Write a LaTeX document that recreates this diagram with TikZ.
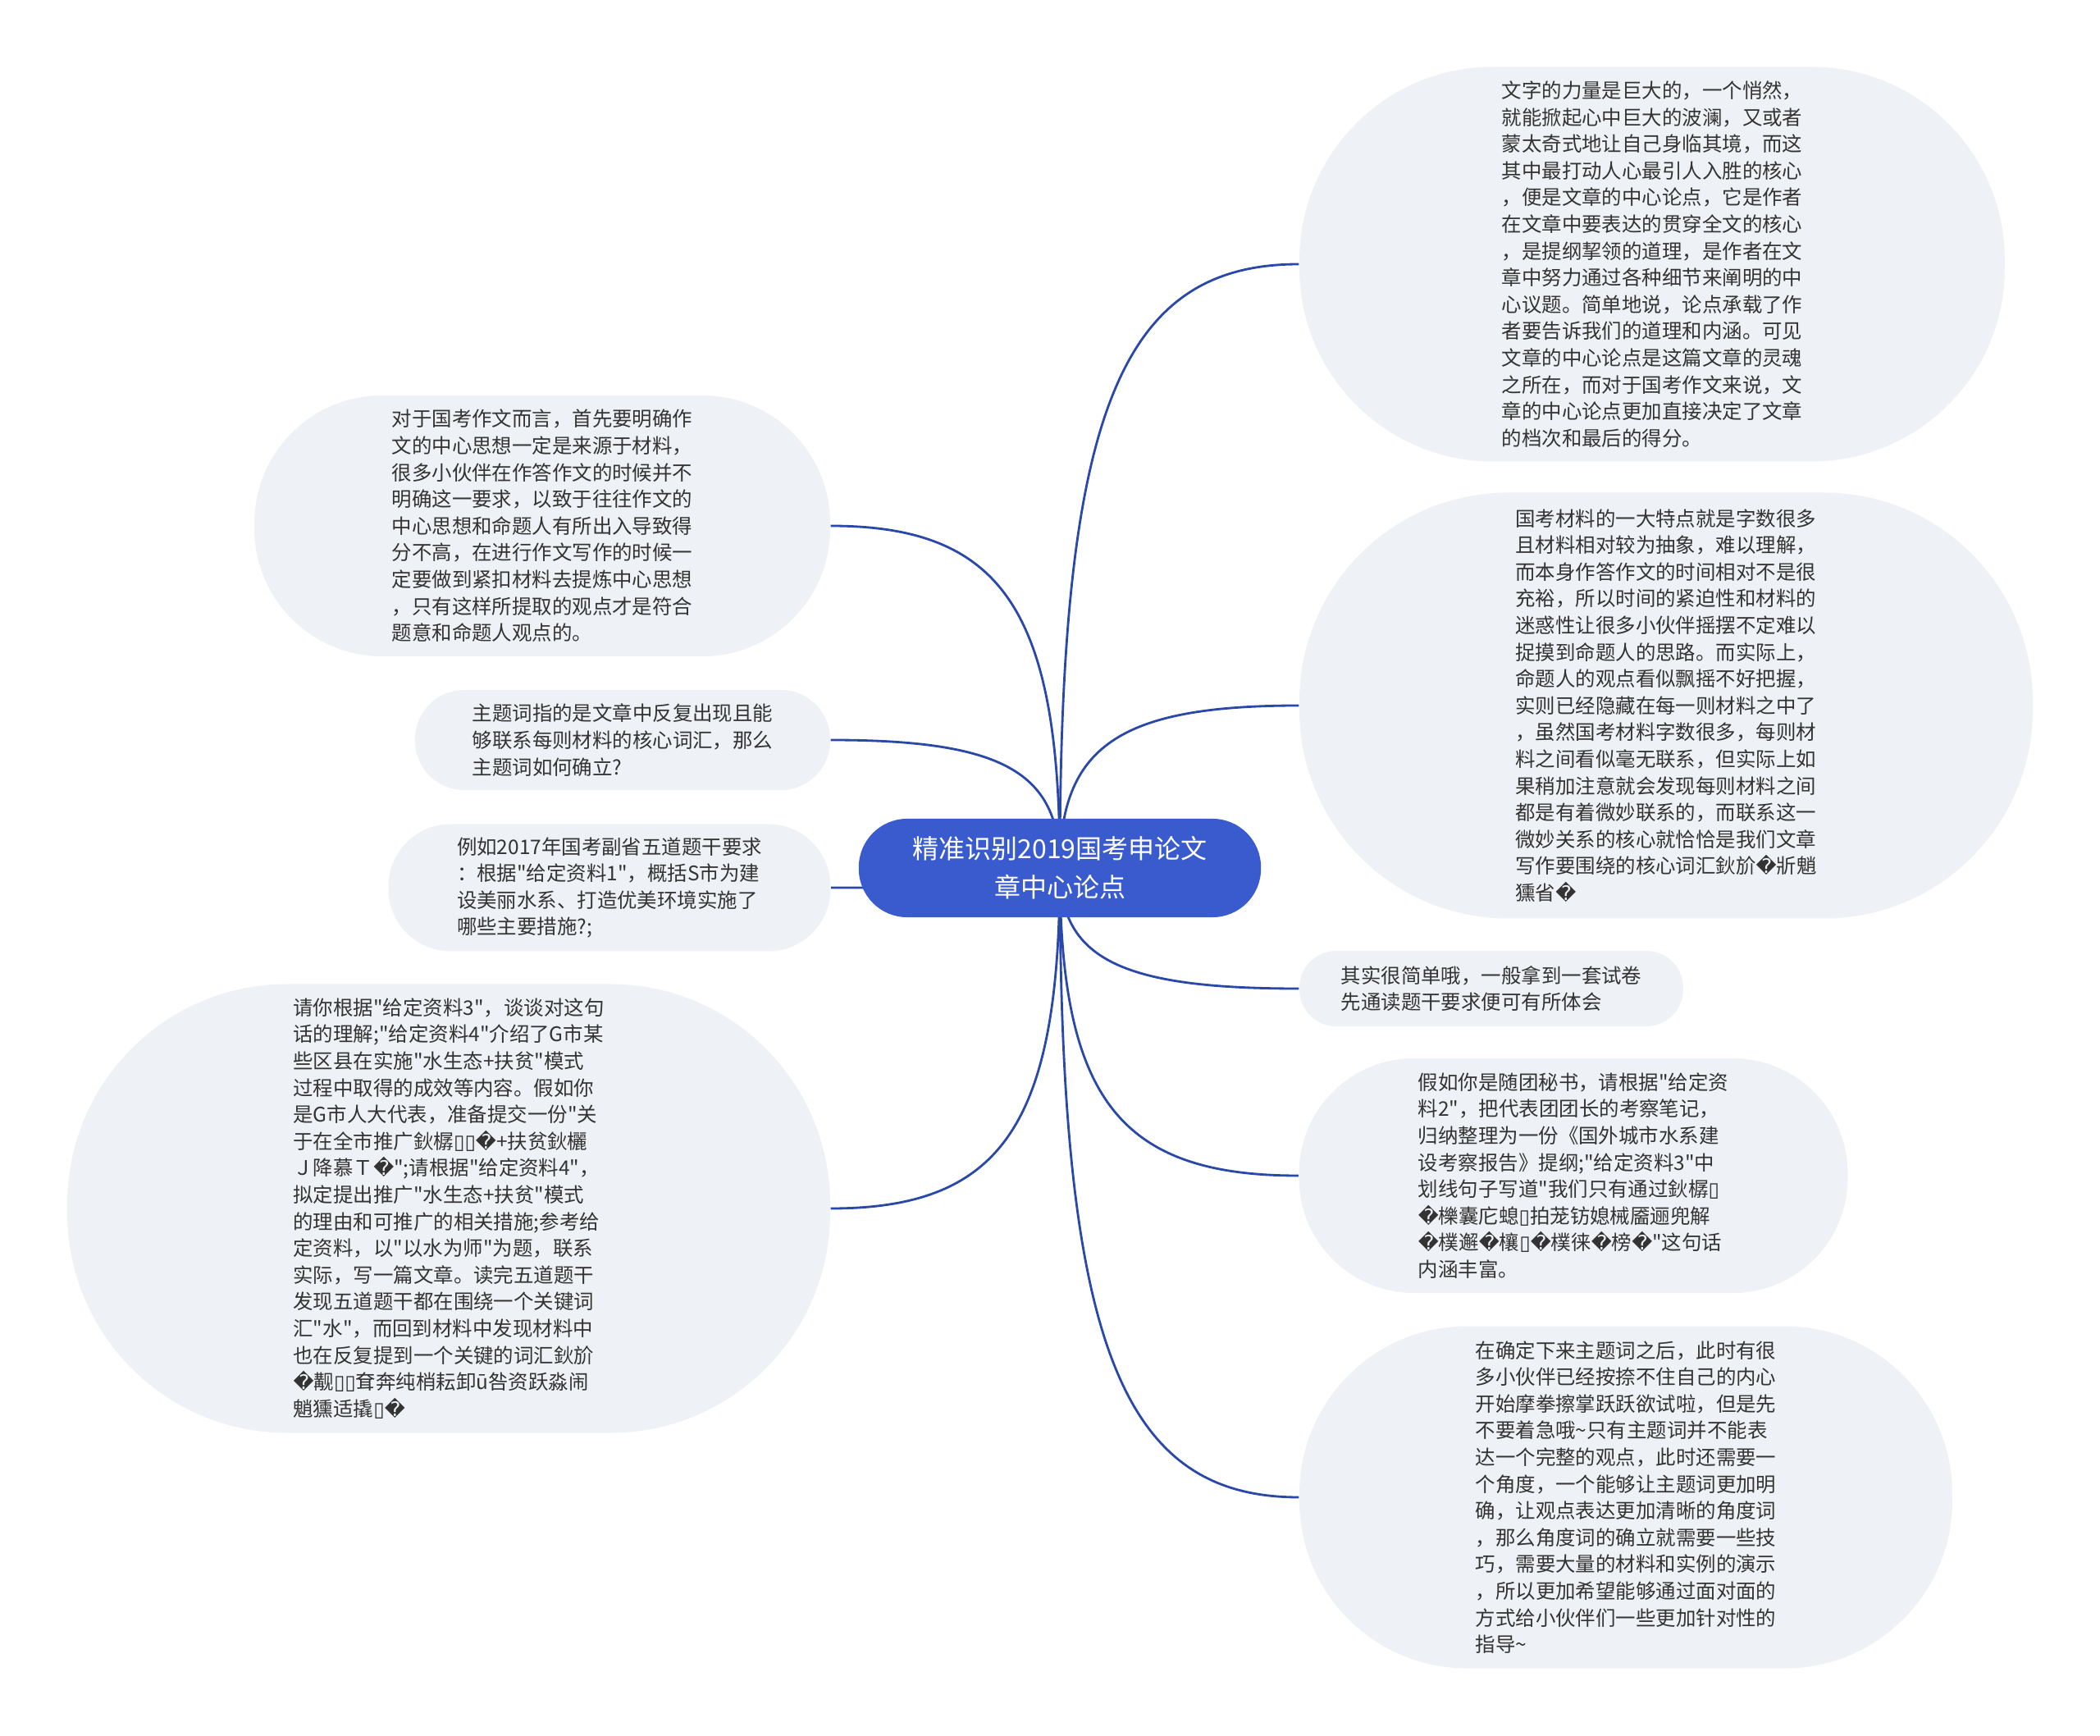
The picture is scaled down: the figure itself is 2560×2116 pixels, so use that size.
\documentclass[tikz,border=0pt]{standalone}
\usepackage{fontspec}
\usepackage{tikz}
\usetikzlibrary{backgrounds, calc}
\newfontfamily\cjk{Noto Sans CJK SC}
\newfontfamily\symb{DejaVu Sans}
\definecolor{rootblue}{HTML}{3A5BCD}
\definecolor{linkblue}{HTML}{2A48A8}
\definecolor{leafgray}{HTML}{EEF1F5}
\definecolor{inkgray}{HTML}{333333}
\newcommand{\qbad}{{\symb\char"FFFD}}
\newcommand{\tofubox}{{\symb\char"25AF}}

\begin{document}
\begin{tikzpicture}[
        x=0.01cm, y=-0.01cm,
        leaf/.style 2 args={rectangle, fill=leafgray, text=inkgray, inner sep=0pt,
            minimum width=#1*0.01cm, minimum height=#2*0.01cm, rounded corners=#2*0.0049cm,
            align=left, font=\cjk\fontsize{6.95}{9.27}\selectfont},
        root/.style={rectangle, fill=rootblue, text=white, inner sep=0pt,
            minimum width=4.9cm, minimum height=1.2cm, rounded corners=0.59cm,
            align=center, font=\cjk\fontsize{9.1}{13.3}\selectfont},
        link/.style={draw=linkblue, line width=0.8pt}
    ]
        \useasboundingbox (0,0) rectangle (2560,2116);

        \node[root] (root) at (1292,1058) {精准识别2019国考申论文\\章中心论点};

        % right side
        \node[leaf={860}{481}] (r1) at (2014,322) {文字的力量是巨大的，一个悄然，\\就能掀起心中巨大的波澜，又或者\\蒙太奇式地让自己身临其境，而这\\其中最打动人心最引人入胜的核心\\，便是文章的中心论点，它是作者\\在文章中要表达的贯穿全文的核心\\，是提纲挈领的道理，是作者在文\\章中努力通过各种细节来阐明的中\\心议题。简单地说，论点承载了作\\者要告诉我们的道理和内涵。可见\\文章的中心论点是这篇文章的灵魂\\之所在，而对于国考作文来说，文\\章的中心论点更加直接决定了文章\\的档次和最后的得分。};
        \node[leaf={894}{519}] (r2) at (2031,860) {国考材料的一大特点就是字数很多\\且材料相对较为抽象，难以理解，\\而本身作答作文的时间相对不是很\\充裕，所以时间的紧迫性和材料的\\迷惑性让很多小伙伴摇摆不定难以\\捉摸到命题人的思路。而实际上，\\命题人的观点看似飘摇不好把握，\\实则已经隐藏在每一则材料之中了\\，虽然国考材料字数很多，每则材\\料之间看似毫无联系，但实际上如\\果稍加注意就会发现每则材料之间\\都是有着微妙联系的，而联系这一\\微妙关系的核心就恰恰是我们文章\\写作要围绕的核心词汇鈥斺\qbad{}斨魈\\獯省\qbad};
        \node[leaf={468}{92}] (r3) at (1818,1205) {其实很简单哦，一般拿到一套试卷\\先通读题干要求便可有所体会};
        \node[leaf={669}{286}] (r4) at (1918,1433) {假如你是随团秘书，请根据"给定资\\料2"，把代表团团长的考察笔记，\\归纳整理为一份《国外城市水系建\\设考察报告》提纲;"给定资料3"中\\划线句子写道"我们只有通过鈥樼\tofubox\\\qbad{}櫟囊庀螅\tofubox{}拍茏钫媳械靥逦兜解\\\qbad{}樸邂\qbad{}欀\tofubox\qbad{}樸徕\qbad{}榜\qbad"这句话\\内涵丰富。};
        \node[leaf={796}{417}] (r5) at (1982,1825) {在确定下来主题词之后，此时有很\\多小伙伴已经按捺不住自己的内心\\开始摩拳擦掌跃跃欲试啦，但是先\\不要着急哦\textasciitilde{}只有主题词并不能表\\达一个完整的观点，此时还需要一\\个角度，一个能够让主题词更加明\\确，让观点表达更加清晰的角度词\\，那么角度词的确立就需要一些技\\巧，需要大量的材料和实例的演示\\，所以更加希望能够通过面对面的\\方式给小伙伴们一些更加针对性的\\指导\textasciitilde};

        % left side
        \node[leaf={702}{318}] (l1) at (661,641) {对于国考作文而言，首先要明确作\\文的中心思想一定是来源于材料，\\很多小伙伴在作答作文的时候并不\\明确这一要求，以致于往往作文的\\中心思想和命题人有所出入导致得\\分不高，在进行作文写作的时候一\\定要做到紧扣材料去提炼中心思想\\，只有这样所提取的观点才是符合\\题意和命题人观点的。};
        \node[leaf={506}{122}] (l2) at (759,902) {主题词指的是文章中反复出现且能\\够联系每则材料的核心词汇，那么\\主题词如何确立?};
        \node[leaf={539}{155}] (l3) at (743,1082) {例如2017年国考副省五道题干要求\\：根据"给定资料1"，概括S市为建\\设美丽水系、打造优美环境实施了\\哪些主要措施?;};
        \node[leaf={930}{547}] (l4) at (547,1473) {请你根据"给定资料3"，谈谈对这句\\话的理解;"给定资料4"介绍了G市某\\些区县在实施"水生态+扶贫"模式\\过程中取得的成效等内容。假如你\\是G市人大代表，准备提交一份"关\\于在全市推广鈥樼\tofubox\tofubox\qbad+扶贫鈥欐\\Ｊ降慕Ｔ\qbad";请根据"给定资料4"，\\拟定提出推广"水生态+扶贫"模式\\的理由和可推广的相关措施;参考给\\定资料，以"以水为师"为题，联系\\实际，写一篇文章。读完五道题干\\发现五道题干都在围绕一个关键词\\汇"水"，而回到材料中发现材料中\\也在反复提到一个关键的词汇鈥斺\\\qbad{}觏\tofubox\tofubox{}耷奔纯梢耘卸ū咎资跃淼闹\\魈獯适撬\tofubox\qbad};

        % curved links behind the nodes
        \begin{scope}[on background layer]
            \foreach \n in {r1,r2,r3,r4,r5}
                \draw[link] (root.center) .. controls ($(root.center)!.75!(root.center |- \n.west)$)
                    and ($(\n.west)!.75!(root.center |- \n.west)$) .. (\n.west);
            \foreach \n in {l1,l2,l3,l4}
                \draw[link] (root.center) .. controls ($(root.center)!.75!(root.center |- \n.east)$)
                    and ($(\n.east)!.75!(root.center |- \n.east)$) .. (\n.east);
        \end{scope}
    \end{tikzpicture}
\end{document}
